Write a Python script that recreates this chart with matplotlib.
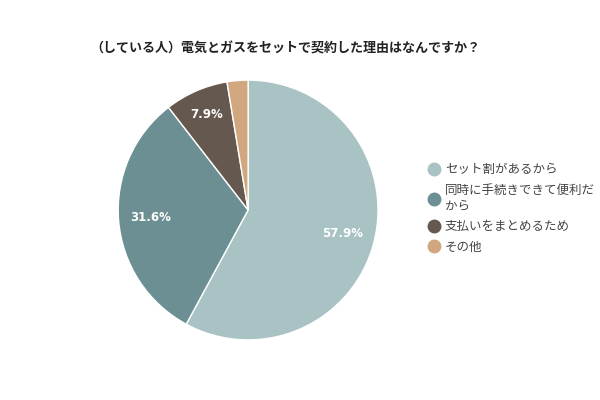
import matplotlib
matplotlib.use("Agg")
import matplotlib.pyplot as plt
from matplotlib.lines import Line2D
import numpy as np

plt.rcParams['font.family'] = ['Noto Sans CJK JP', 'DejaVu Sans']

title = "（している人）電気とガスをセットで契約した理由はなんですか？"
categories = ["セット割があるから", "同時に手続きできて便利だ\nから", "支払いをまとめるため", "その他"]
values = [57.9, 31.6, 7.9, 2.6]
labels = ["57.9%", "31.6%", "7.9%", ""]
colors = ["#A9C2C3", "#6C8F93", "#65584E", "#D1A77F"]

fig = plt.figure(figsize=(6, 4), dpi=100)
ax = fig.add_axes([0.197, 0.15, 0.433, 0.65])
wedges, texts = ax.pie(values, colors=colors, startangle=90, counterclock=False,
                       wedgeprops=dict(edgecolor="white", linewidth=1))
total = sum(values)
ang = 90.0
for v, lab in zip(values, labels):
    span = v / total * 360
    mid = np.deg2rad(ang - span / 2)
    ang -= span
    if lab:
        d = 0.8 if v < 10 else 0.75
        ax.text(d * np.cos(mid), d * np.sin(mid), lab, ha="center", va="center",
                color="white", fontsize=8.5, fontweight="bold", family=['DejaVu Sans'])
ax.set_xlim(-1, 1)
ax.set_ylim(-1, 1)
ax.set_aspect("equal")
ax.axis("off")

fig.text(0.475, 0.878, title, ha="center", va="center", fontsize=9.4, fontweight="bold", color="#222222")

handles = [Line2D([0], [0], marker="o", linestyle="", markersize=9,
                  markerfacecolor=c, markeredgecolor=c) for c in colors]
leg = fig.legend(handles, categories, loc="upper left", bbox_to_anchor=(0.702, 0.605),
                 frameon=False, fontsize=9, handletextpad=0.3, labelspacing=0.62,
                 handlelength=1.2, borderaxespad=0)
for t in leg.get_texts():
    t.set_color("#444444")
    t.set_linespacing(1.25)

fig.savefig("out.png", dpi=100, facecolor="white")
